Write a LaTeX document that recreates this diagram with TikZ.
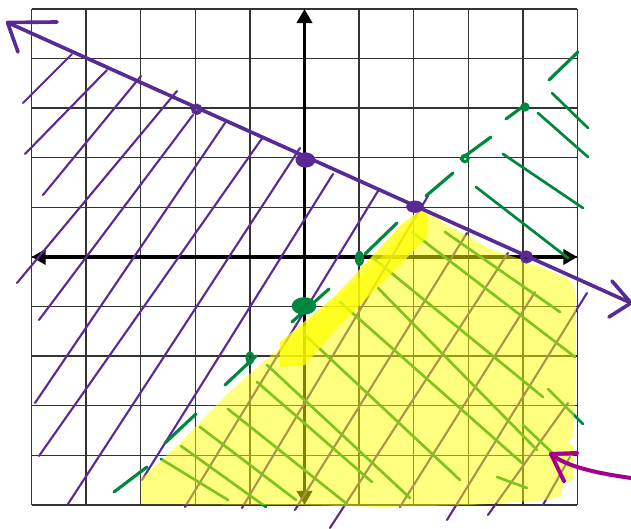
\documentclass[tikz,border=0pt]{standalone}
\usepackage{xcolor}
\usepackage{tikz}
\usetikzlibrary{arrows.meta, shapes.geometric}

\definecolor{inkpurple}{RGB}{88,42,148}
\definecolor{inkgreen}{RGB}{0,135,62}
\definecolor{inkmagenta}{RGB}{165,0,140}
\definecolor{hilite}{RGB}{255,255,0}

\begin{document}
\begin{tikzpicture}[
        x=1.6374cm, y=1.488cm,
        gridline/.style={draw=black!80, line width=1.2pt},
        axis/.style={line width=2.6pt, {Triangle[length=12pt,width=13pt]}-{Triangle[length=12pt,width=13pt]}},
        hatchp/.style={draw=inkpurple, line width=1.8pt, line cap=round},
        hatchg/.style={draw=inkgreen, line width=2.3pt, line cap=round},
        mainline/.style={draw=inkpurple, line width=3.1pt, line cap=round, line join=round},
        dashg/.style={draw=inkgreen, line width=2.7pt, line cap=round},
        marker/.style={draw=inkmagenta, line width=3.4pt, line cap=round, line join=round},
        pdot/.style={ellipse, fill=inkpurple, inner sep=0pt},
        pring/.style={circle, draw=inkpurple, line width=3.6pt, inner sep=0pt},
        gdot/.style={ellipse, fill=inkgreen, inner sep=0pt},
        gring/.style={ellipse, draw=inkgreen, line width=2.6pt, inner sep=0pt},
        highlight/.style={fill=hilite, fill opacity=0.5},
    ]

    % === PAGE ===
    \fill[white] (-5.579,-5.484) rectangle (5.982,5.181);
    \useasboundingbox (-5.579,-5.484) rectangle (5.982,5.181);

    % === GRID AND AXES ===
    \draw[gridline, step=1] (-5,-5) grid (5,5);
    \draw[axis] (-5,0) -- (5,0);
    \draw[axis] (0,-5) -- (0,5);

    % === HAND-DRAWN INK (pixel units of the sketch) ===
    \begin{scope}[shift={(-5.579,5.181)}, x=0.03cm, y=-0.03cm]

    % purple hatching
    \draw[hatchp] (23,103) -- (72,54);
    \draw[hatchp] (25,154) -- (107,70);
    \draw[hatchp] (43,195) -- (141,76);
    \draw[hatchp] (17,283) -- (177,91);
    \draw[hatchp] (39,320) -- (193,115);
    \draw[hatchp] (35,403) -- (225,123);
    \draw[hatchp] (39,456) -- (263,137);
    \draw[hatchp] (68,504) -- (300,148);
    \draw[hatchp] (142,480) -- (333,174);
    \draw[hatchp] (185,507) -- (378,191);
    \draw[hatchp] (242,508) -- (428,196);
    \draw[hatchp] (295,510) -- (467,233);
    \draw[hatchp] (330,528) -- (508,253);
    \draw[hatchp] (400,507) -- (535,292);
    \draw[hatchp] (447,520) -- (587,293);
    \draw[hatchp] (488,515) -- (568,403);
    \draw[hatchp] (543,505) -- (570,457);

    % green hatching, top right
    \draw[hatchg] (552,93) -- (588,128);
    \draw[hatchg] (538,113) -- (588,157);
    \draw[hatchg] (503,154) -- (583,208);
    \draw[hatchg] (476,187) -- (568,258);

    % green hatching under the highlight
    \draw[hatchg] (161,459) -- (228,500);
    \draw[hatchg] (181,446) -- (266,507);
    \draw[hatchg] (200,427) -- (296,500);
    \draw[hatchg] (228,409) -- (347,504);
    \draw[hatchg] (257,382) -- (372,482);
    \draw[hatchg] (267,365) -- (410,498);
    \draw[hatchg] (305,335) -- (460,480);
    \draw[hatchg] (340,302) -- (522,463);
    \draw[hatchg] (378,288) -- (537,450);
    \draw[hatchg] (373,258) -- (543,397);
    \draw[hatchg] (412,232) -- (575,357);
    \draw[hatchg] (445,232) -- (560,312);
    \draw[hatchg] (497,477) -- (527,488);
    \draw[hatchg] (523,425) -- (562,462);
    \draw[hatchg] (548,389) -- (583,424);

    % yellow highlight
    \fill[highlight] (141,504) -- (141,479) -- (180,443) -- (227,394) -- (268,358)
        -- (300,330) -- (340,296) -- (387,252) -- (410,222) -- (420,210) -- (430,212)
        -- (445,224) -- (470,237) -- (490,249) -- (523,260) -- (567,278) -- (574,285)
        -- (576,300) -- (576,380) -- (573,437) -- (567,443) -- (573,445) -- (573,480)
        -- (563,485) -- (561,497) -- (546,500) -- (470,505) -- (383,507) -- (300,505) -- cycle;
    \fill[highlight, fill opacity=0.75] (280,367) -- (280,342) -- (335,296) -- (402,224)
        -- (420,210) -- (427,213) -- (427,237) -- (395,270) -- (335,330) -- (305,365) -- cycle;

    % purple boundary line
    \coordinate (pl) at (7.5,22.5);
    \coordinate (pr) at (631,303);
    \draw[mainline] (pl) -- (pr);
    \draw[mainline] (57,22) -- (pl) -- (18,52);
    \draw[mainline] (612,281) -- (pr) -- (609,317);

    \node[pring, minimum size=6pt] (pA) at (196.7,109.3) {};
    \node[pdot, minimum width=17pt, minimum height=13pt] (pB) at (305.5,160) {};
    \node[pdot, minimum width=15pt, minimum height=10.5pt] (pC) at (415,206.7) {};
    \node[pring, minimum size=7.5pt] (pD) at (526.5,257) {};

    % green dashed boundary line
    \draw[dashg] (114,492) -- (147,467);
    \draw[dashg] (165,443) -- (196,414);
    \draw[dashg] (225,385) -- (256,356);
    \draw[dashg] (292,322) -- (329,289);
    \draw[dashg] (365,254) -- (397,223);
    \draw[dashg] (426,196) -- (453,173);
    \draw[dashg] (461,159) -- (491,137);
    \draw[dashg] (506,119) -- (525,105);
    \draw[dashg] (549,80) -- (578,52);

    \node[gring, minimum width=5pt, minimum height=9pt] (gA) at (250,358) {};
    \node[gdot, minimum width=21pt, minimum height=15pt] (gB) at (304,306) {};
    \node[gdot, minimum width=8pt, minimum height=13pt] (gC) at (359.5,258.5) {};
    \node[gring, minimum size=5.5pt] (gD) at (465,158.5) {};
    \node[gdot, minimum size=8pt] (gE) at (525,107) {};

    % magenta pointer
    \coordinate (mtip) at (551,454);
    \draw[marker] (631,478) .. controls (595,473) and (565,466) .. (mtip);
    \draw[marker] (577,453) -- (mtip) -- (564,481);

    \end{scope}

\end{tikzpicture}
\end{document}
